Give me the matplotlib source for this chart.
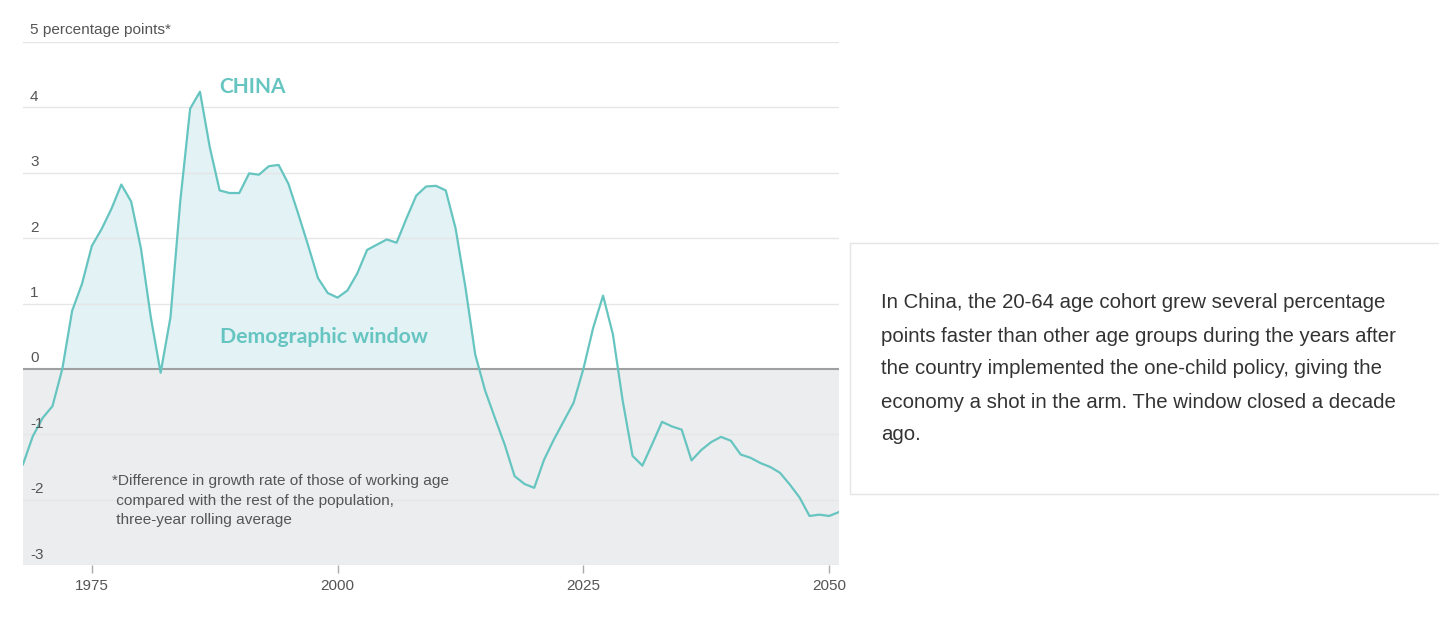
import matplotlib.pyplot as plt
import numpy as np
from matplotlib.patches import Rectangle
from matplotlib.transforms import blended_transform_factory

# yearly values (percentage points)
years = list(range(1968, 2052))
values = [
    -1.46, -1.03, -0.75, -0.57, 0.00, 0.89, 1.30, 1.88, 2.14, 2.45,   # 1968-1977
    2.82, 2.56, 1.84, 0.79, -0.06, 0.79, 2.57, 3.98, 4.24, 3.39,      # 1978-1987
    2.73, 2.69, 2.69, 2.99, 2.97, 3.10, 3.12, 2.83, 2.37, 1.89,       # 1988-1997
    1.39, 1.16, 1.09, 1.20, 1.46, 1.82, 1.90, 1.98, 1.93, 2.30,       # 1998-2007
    2.65, 2.79, 2.80, 2.73, 2.15, 1.25, 0.22, -0.33, -0.75, -1.16,    # 2008-2017
    -1.64, -1.76, -1.82, -1.39, -1.08, -0.80, -0.52, 0.00, 0.63, 1.12,  # 2018-2027
    0.53, -0.49, -1.33, -1.48, -1.15, -0.81, -0.88, -0.93, -1.40, -1.24,  # 2028-2037
    -1.12, -1.04, -1.10, -1.31, -1.36, -1.44, -1.50, -1.59, -1.77, -1.97,  # 2038-2047
    -2.25, -2.23, -2.25, -2.19,                                          # 2048-2051
]
window_end = 2015  # shading only marks the historic demographic window
y_ticks = [-3, -2, -1, 0, 1, 2, 3, 4]
x_ticks = [1975, 2000, 2025, 2050]

note_lines = [
    "In China, the 20-64 age cohort grew several percentage",
    "points faster than other age groups during the years after",
    "the country implemented the one-child policy, giving the",
    "economy a shot in the arm. The window closed a decade",
    "ago.",
]
footnote_lines = [
    "*Difference in growth rate of those of working age",
    " compared with the rest of the population,",
    " three-year rolling average",
]

LINE = "#66c5c0"
FILL = "#e2f2f5"
NEG = "#ecedef"
GRID = "#e6e6e6"
TXT = "#555555"

plt.rcParams["font.family"] = ["Liberation Sans", "DejaVu Sans"]

fig = plt.figure(figsize=(14.39, 6.18), dpi=100)
ax = fig.add_axes([23 / 1439, 53 / 618, 816 / 1439, 523 / 618])

x = np.array(years, dtype=float)
y = np.array(values)

ax.set_xlim(1968, 2051)
ax.set_ylim(-3, 5)

ax.axhspan(-3, 0, color=NEG, lw=0, zorder=0)
ax.fill_between(x, 0, y, where=(y > 0) & (x <= window_end), interpolate=True,
                color=FILL, lw=0, zorder=1)

for v in [-3, -2, -1, 1, 2, 3, 4, 5]:
    ax.axhline(v, color=GRID, lw=1, zorder=1.5)
ax.axhline(0, color="#a0a0a0", lw=1.5, zorder=2)

ax.plot(x, y, color=LINE, lw=1.6, zorder=3)

for s in ax.spines.values():
    s.set_visible(False)

ax.set_yticks([])
ax.set_xticks(x_ticks)
ax.set_xticklabels([str(t) for t in x_ticks], fontsize=11, color=TXT)
ax.tick_params(axis="x", length=6, width=1, color="#aaaaaa", pad=4)

tr = blended_transform_factory(ax.transAxes, ax.transData)
for v in y_ticks:
    ax.text(7 / 816, v + 0.16, str(v), transform=tr, fontsize=11, color=TXT,
            ha="left", va="center")
ax.text(7 / 816, 5 + 0.18, "5 percentage points*", transform=tr, fontsize=11.1,
        color=TXT, ha="left", va="center", clip_on=False)

ax.text(1988.0, 4.31, "CHINA", fontsize=15, fontweight="bold", color=LINE,
        family=["Lato", "DejaVu Sans"], ha="left", va="center")
ax.text(1988.0, 0.49, "Demographic window", fontsize=15.3, fontweight="bold",
        color=LINE, family=["Lato", "DejaVu Sans"], ha="left", va="center")

for i, line in enumerate(footnote_lines):
    fig.text(112 / 1439, 1 - (481 + i * 19.5) / 618, line, fontsize=11.1,
             color=TXT, ha="left", va="center")

# side note box
fig.patches.append(Rectangle((850 / 1439, (618 - 494) / 618), 600 / 1439, 251 / 618,
                             transform=fig.transFigure, facecolor="white",
                             edgecolor="#e5e5e5", lw=1))
for i, line in enumerate(note_lines):
    fig.text(881 / 1439, 1 - (303 + i * 33) / 618, line, fontsize=14.7,
             color="#333333", ha="left", va="center")

fig.savefig("out.png", dpi=100)
